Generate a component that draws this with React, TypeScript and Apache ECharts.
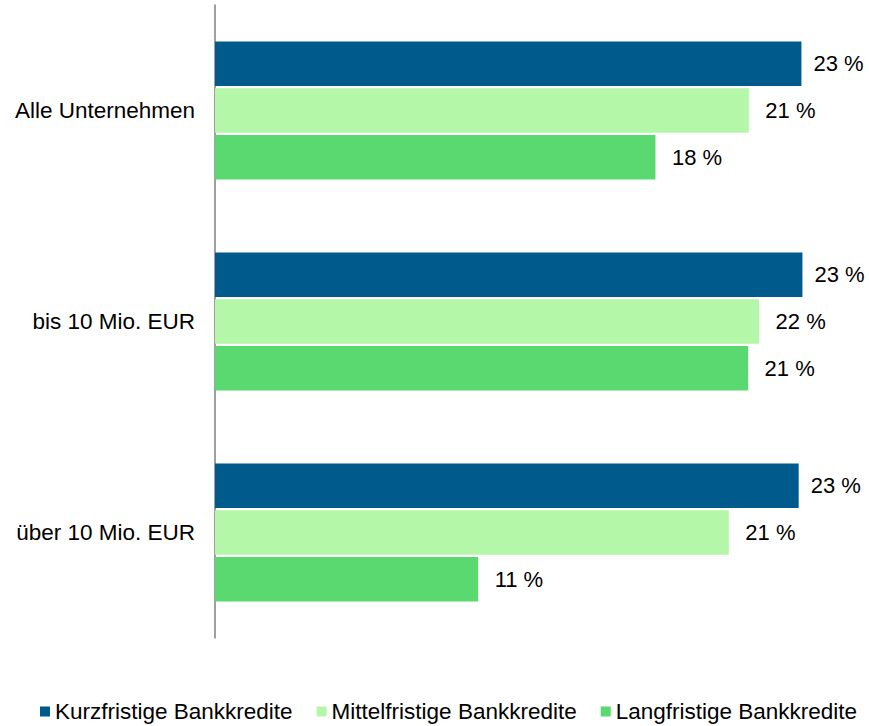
import React, { useEffect, useRef } from "react";
import * as echarts from "echarts";

const categories = ["Alle Unternehmen", "bis 10 Mio. EUR", "über 10 Mio. EUR"];
const seriesNames = [
  "Kurzfristige Bankkredite",
  "Mittelfristige Bankkredite",
  "Langfristige Bankkredite",
];
const kurzfristig = [23.42, 23.46, 23.31];
const mittelfristig = [21.32, 21.73, 20.52];
const langfristig = [17.59, 21.29, 10.51];
const colors = ["#005A8C", "#B5F7A9", "#5AD970"];

export default function App() {
  const ref = useRef<HTMLDivElement>(null);
  useEffect(() => {
    document.body.style.margin = "0";
    if (!ref.current) return;
    const chart = echarts.init(ref.current, undefined, { renderer: "svg" });
    const font = "'Liberation Sans', Arial, sans-serif";
    const values = [kurzfristig, mittelfristig, langfristig];
    const distances = [12, 16.5, 16.5];
    chart.setOption({
      animation: false,
      grid: { left: 215, right: 28, top: 5, bottom: 88, containLabel: false },
      legend: {
        data: seriesNames,
        left: 35,
        top: 695,
        icon: "rect",
        itemWidth: 10,
        itemHeight: 10,
        itemGap: 24,
        textStyle: { fontFamily: font, fontSize: 22.5, color: "#000" },
      },
      xAxis: {
        type: "value",
        min: 0,
        max: 25,
        show: false,
      },
      yAxis: {
        type: "category",
        data: categories,
        inverse: true,
        axisLine: { show: true, lineStyle: { color: "#7F7F7F", width: 1.5 } },
        axisTick: { show: false },
        axisLabel: {
          margin: 20,
          fontFamily: font,
          fontSize: 22.5,
          color: "#000",
        },
        splitLine: { show: false },
      },
      series: seriesNames.map((name, i) => ({
        name,
        type: "bar",
        data: values[i],
        barCategoryGap: "34.5%",
        barGap: "4.5%",
        itemStyle: { color: colors[i] },
        label: {
          show: true,
          position: "right",
          distance: distances[i],
          fontFamily: font,
          fontSize: 22,
          color: "#000",
          formatter: (p: any) => Math.round(p.value) + " %",
        },
      })),
    });
    return () => chart.dispose();
  }, []);
  return <div ref={ref} style={{ width: 869, height: 726 }} />;
}
